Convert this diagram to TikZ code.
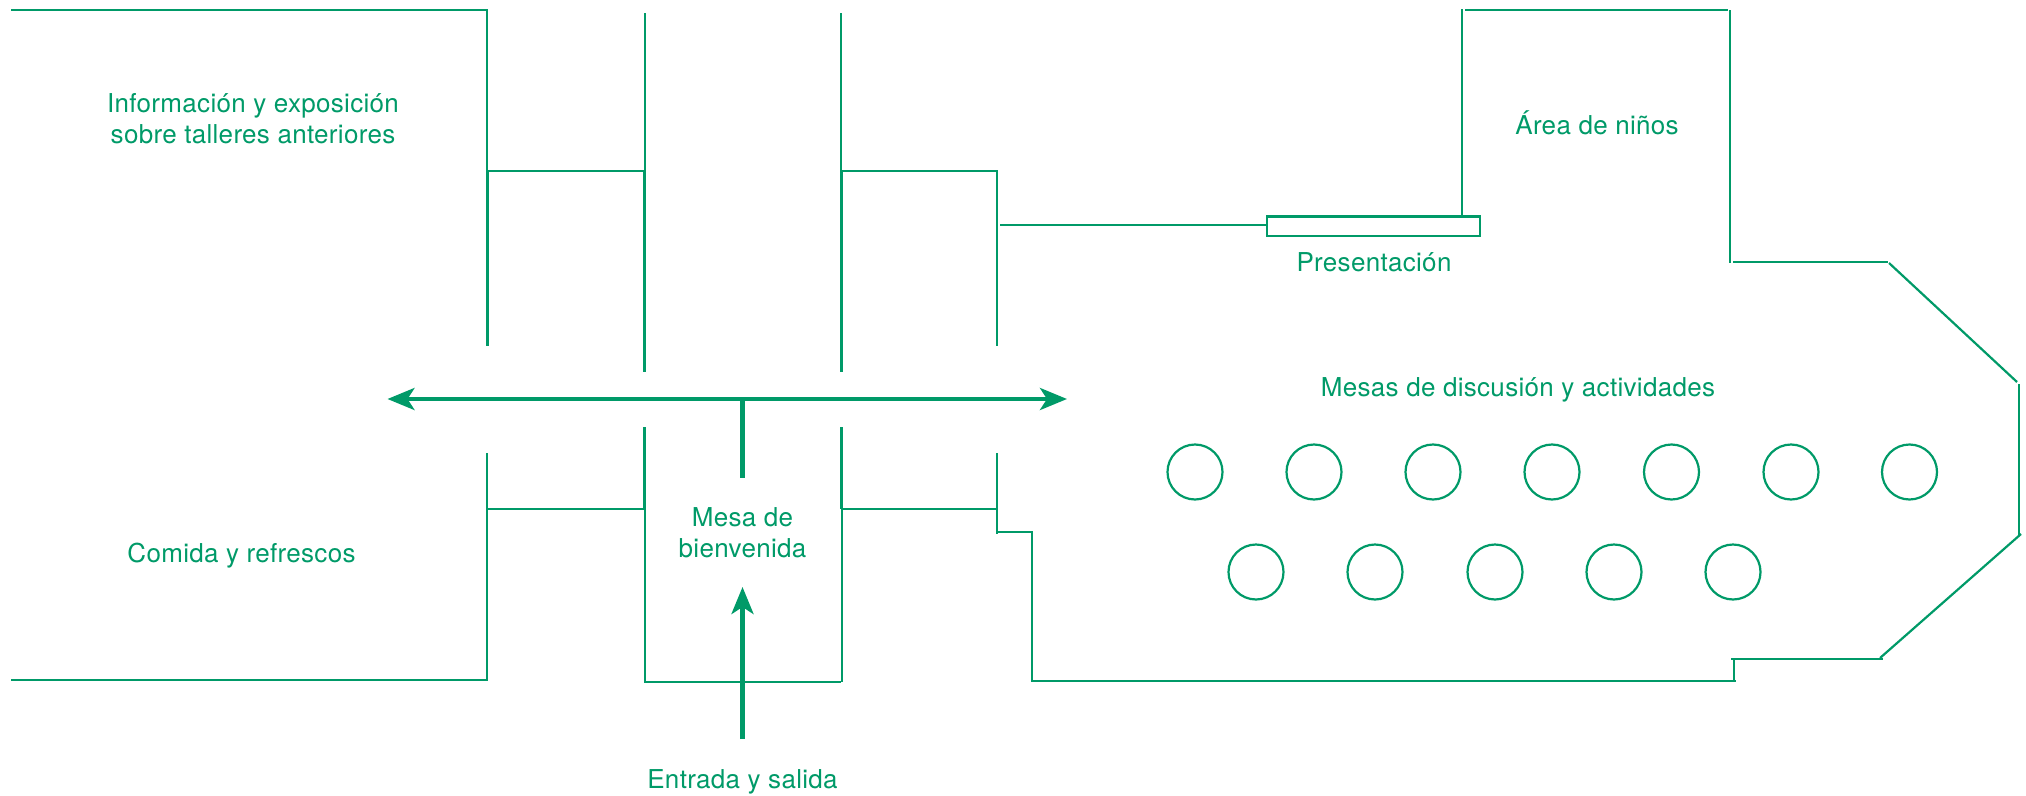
\documentclass[tikz,border=0pt]{standalone}
\usepackage{fontspec}
\setmainfont[LetterSpace=1.2]{TeX Gyre Heros}
\usetikzlibrary{arrows.meta}
\definecolor{plangreen}{HTML}{009A68}
\tikzset{
  x=1pt,y=-1pt,
  wall/.style={draw=plangreen,line width=2.2pt},
  wallb/.style={draw=plangreen,line width=2.8pt},
  route/.style={draw=plangreen,line width=4.3pt},
  routetip/.style={route,-{Stealth[length=27pt,width=22pt,inset=7pt]}},
  routetips/.style={route,{Stealth[length=27pt,width=22pt,inset=7pt]}-{Stealth[length=27pt,width=22pt,inset=7pt]}},
  tablec/.style={draw=plangreen,line width=2.2pt,circle,minimum size=55pt,inner sep=0pt},
  lbl/.style={text=plangreen,font=\fontsize{26}{31}\selectfont,align=center,anchor=base,inner sep=0pt},
}
\begin{document}
\begin{tikzpicture}
\useasboundingbox (0,0) rectangle (2026,795);
% left rooms
\draw[wall] (11,10) -- (487,10) -- (487,171);
\draw[wallb] (487.5,171) -- (487.5,346);
\draw[wall] (487,171) -- (645,171);
\draw[wall] (645,13) -- (645,171);
\draw[wallb] (644.5,171) -- (644.5,372);
\draw[wall] (841,13) -- (841,171);
\draw[wallb] (841.5,171) -- (841.5,372);
\draw[wall] (841,171) -- (997,171) -- (997,346);
% lower rooms
\draw[wallb] (487,453) -- (487,509);
\draw[wall] (487,509) -- (487,680) -- (11,680);
\draw[wall] (487,509) -- (645,509);
\draw[wallb] (644.5,427) -- (644.5,509);
\draw[wall] (645,509) -- (645,682) -- (841,682);
\draw[wallb] (841.5,427) -- (841.5,509);
\draw[wall] (842,509) -- (842,682);
\draw[wall] (841,509) -- (997,509);
\draw[wall] (997,453) -- (997,534);
\draw[wall] (997,532) -- (1032,532) -- (1032,681) -- (1736,681);
% right hall
\draw[wall] (1000,225) -- (1267,225);
\draw[wall] (1267,216.5) rectangle (1480,236);
\draw[wall] (1462,9) -- (1462,216);
\draw[wallb] (1465,10) -- (1728,10);
\draw[wall] (1730,10) -- (1730,263);
\draw[wall] (1733,262) -- (1888,262);
\draw[wall] (1889,263) -- (2017,382);
\draw[wall] (2019,384) -- (2019,535);
\draw[wall] (2021,534) -- (1880,658);
\draw[wall] (1731,659) -- (1883,659);
\draw[wall] (1734,660) -- (1734,681);
% tables
\foreach \n/\cx in {1/1195,2/1314,3/1433,4/1552,5/1671.5,6/1791,7/1909.5}
  \node[tablec] (ta\n) at (\cx,472) {};
\foreach \n/\cx in {1/1256,2/1375,3/1495,4/1614,5/1733}
  \node[tablec] (tb\n) at (\cx,572) {};
% routes
\coordinate (wl) at (387.5,399);
\coordinate (wr) at (1067,399);
\coordinate (stemtop) at (742.5,399);
\coordinate (stembot) at (742.5,478);
\coordinate (inbot) at (742.5,739);
\coordinate (intip) at (742.5,587);
\draw[routetips] (wl) -- (wr);
\draw[route] (stemtop) -- (stembot);
\draw[routetip] (inbot) -- (intip);
% labels
\node[lbl] (info) at (253,112) {Información y exposición};
\node[lbl] (info2) at (253,143) {sobre talleres anteriores};
\node[lbl] (comida) at (241.5,562) {Comida y refrescos};
\node[lbl] (mesa) at (742.5,526) {Mesa de};
\node[lbl] (bien) at (742.5,557) {bienvenida};
\node[lbl] (entrada) at (742.5,788) {Entrada y salida};
\node[lbl] (area) at (1597,134) {Área de niños};
\node[lbl] (pres) at (1374,271) {Presentación};
\node[lbl] (disc) at (1518,396) {Mesas de discusión y actividades};
\end{tikzpicture}
\end{document}
